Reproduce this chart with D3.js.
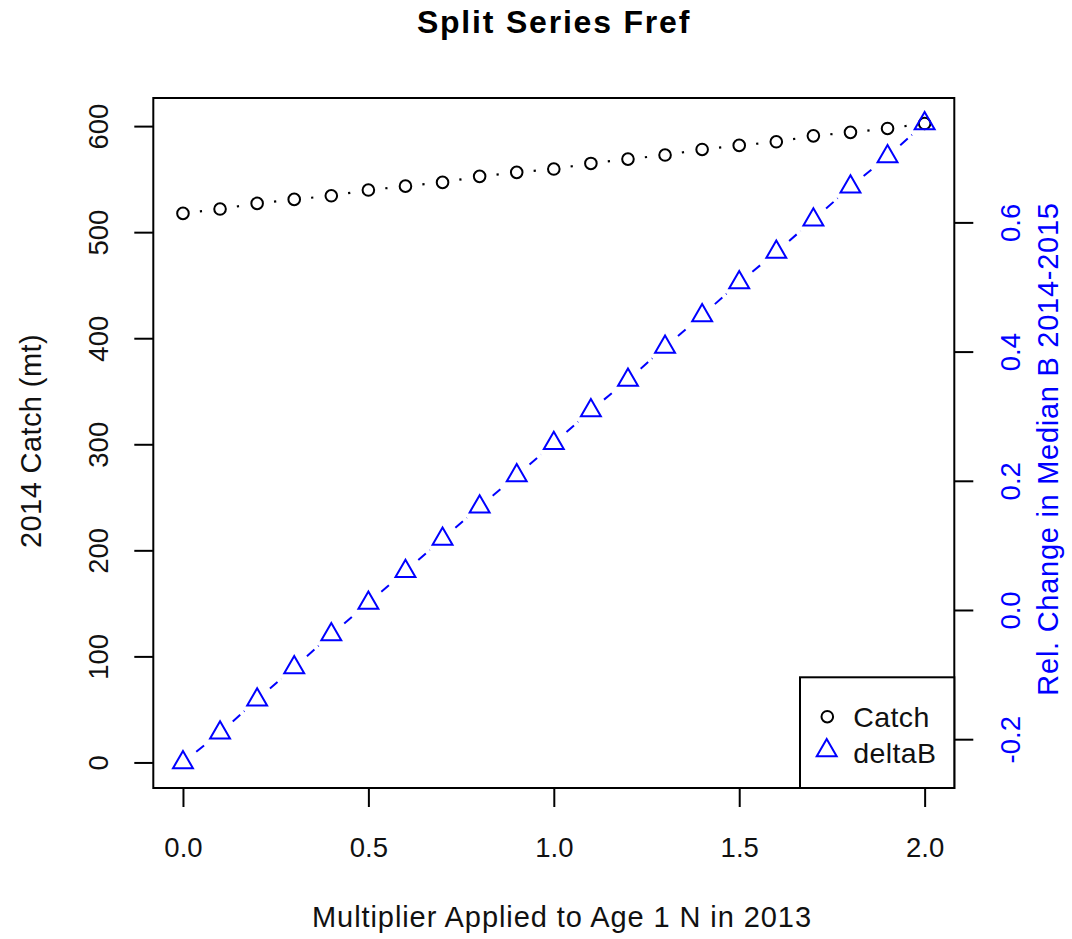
<!DOCTYPE html>
<html>
<head>
<meta charset="utf-8">
<script src="https://cdn.jsdelivr.net/npm/d3@7"></script>
<style>
  html, body { margin: 0; padding: 0; background: #fff; }
  svg { display: block; }
  text { font-family: "Liberation Sans", Arial, sans-serif; }
</style>
</head>
<body>
<div id="chart"></div>
<script>
// ---------- data ----------
const multiplier = [0.0, 0.1, 0.2, 0.3, 0.4, 0.5, 0.6, 0.7, 0.8, 0.9, 1.0,
                    1.1, 1.2, 1.3, 1.4, 1.5, 1.6, 1.7, 1.8, 1.9, 2.0];
const catchVals = [517.7, 521.8, 527.1, 530.9, 534.3, 539.7, 543.4, 546.9, 552.6, 556.4, 559.5,
                   564.8, 568.9, 572.7, 578.0, 581.8, 585.2, 590.8, 594.1, 597.8, 602.4];
const deltaB = [-0.236, -0.190, -0.139, -0.089, -0.038, 0.011, 0.060, 0.110, 0.160, 0.208, 0.258,
                0.309, 0.356, 0.407, 0.456, 0.507, 0.554, 0.604, 0.655, 0.702, 0.753];
const xTicks = [0.0, 0.5, 1.0, 1.5, 2.0];
const catchTicks = [0, 100, 200, 300, 400, 500, 600];
const deltaTicks = [-0.2, 0.0, 0.2, 0.4, 0.6];
const seriesNames = ["Catch", "deltaB"];
const titleText = "Split Series Fref";
const xTitle = "Multiplier Applied to Age 1 N in 2013";
const yLeftTitle = "2014 Catch (mt)";
const yRightTitle = "Rel. Change in Median B 2014-2015";

// ---------- layout ----------
const W = 1072, H = 939;
const box = { left: 153.3, right: 954.3, top: 98, bottom: 788 };
const BLUE = "#0000ff";
const INK = "#111";

function padExt(ext) {
  const r = ext[1] - ext[0];
  return [ext[0] - 0.04 * r, ext[1] + 0.04 * r];
}

const x = d3.scaleLinear().domain(padExt(d3.extent(multiplier))).range([box.left, box.right]);
const yL = d3.scaleLinear().domain(padExt([0, d3.max(catchVals)])).range([box.bottom, box.top]);
const yR = d3.scaleLinear().domain(padExt(d3.extent(deltaB))).range([box.bottom, box.top]);

const loc = d3.formatLocale({ decimal: ".", thousands: ",", grouping: [3], currency: ["", ""], minus: "-" });
const f1 = loc.format(".1f");
const f0 = loc.format("d");

const svg = d3.select("#chart").append("svg").attr("width", W).attr("height", H);
svg.append("rect").attr("width", W).attr("height", H).attr("fill", "#fff");

// ---------- axes ----------
const TICK = 19;
const axisFont = 27.5;
const FF = "Liberation Sans, Arial, sans-serif";

const gx = svg.append("g").attr("transform", `translate(0,${box.bottom})`)
  .call(d3.axisBottom(x).tickValues(xTicks).tickSize(TICK).tickSizeOuter(0).tickFormat(f1));
gx.select(".domain").remove();
gx.selectAll(".tick line").attr("stroke", "#000").attr("stroke-width", 2);
gx.selectAll(".tick text").attr("y", 68.7).attr("dy", 0)
  .attr("font-size", axisFont).attr("fill", INK).attr("font-family", FF);

const gl = svg.append("g").attr("transform", `translate(${box.left},0)`)
  .call(d3.axisLeft(yL).tickValues(catchTicks).tickSize(TICK).tickSizeOuter(0).tickFormat(f0));
gl.select(".domain").remove();
gl.selectAll(".tick line").attr("stroke", "#000").attr("stroke-width", 2);
gl.selectAll(".tick text").attr("x", 0).attr("y", -45).attr("dy", 0)
  .attr("transform", "rotate(-90)").attr("text-anchor", "middle")
  .attr("font-size", axisFont).attr("fill", INK).attr("font-family", FF);

const gr = svg.append("g").attr("transform", `translate(${box.right},0)`)
  .call(d3.axisRight(yR).tickValues(deltaTicks).tickSize(TICK).tickSizeOuter(0).tickFormat(f1));
gr.select(".domain").remove();
gr.selectAll(".tick line").attr("stroke", "#000").attr("stroke-width", 2);
gr.selectAll(".tick text").attr("x", 0).attr("y", 65.7).attr("dy", 0)
  .attr("transform", "rotate(-90)").attr("text-anchor", "middle")
  .attr("font-size", axisFont).attr("fill", BLUE).attr("font-family", FF);

// ---------- series ----------
const GAP = 17;
function segments(xs, ys) {
  const out = [];
  for (let i = 0; i < xs.length - 1; i++) {
    const x0 = xs[i], y0 = ys[i], x1 = xs[i + 1], y1 = ys[i + 1];
    const d = Math.hypot(x1 - x0, y1 - y0);
    if (d <= 2 * GAP) continue;
    const ux = (x1 - x0) / d, uy = (y1 - y0) / d;
    out.push([x0 + ux * GAP, y0 + uy * GAP, x1 - ux * GAP, y1 - uy * GAP]);
  }
  return out;
}

const cx = multiplier.map(v => x(v));
const cyC = catchVals.map(v => yL(v));
const cyD = deltaB.map(v => yR(v));

// catch: dotted line with gaps + open circles
svg.append("g").selectAll("line").data(segments(cx, cyC)).join("line")
  .attr("x1", d => d[0]).attr("y1", d => d[1]).attr("x2", d => d[2]).attr("y2", d => d[3])
  .attr("stroke", "#000").attr("stroke-width", 2.2).attr("stroke-dasharray", "2.2,6.6");
svg.append("g").selectAll("circle").data(multiplier).join("circle")
  .attr("cx", (d, i) => cx[i]).attr("cy", (d, i) => cyC[i]).attr("r", 5.8)
  .attr("fill", "none").attr("stroke", "#000").attr("stroke-width", 2);

// deltaB: dashed blue line with gaps + open triangles
const TR = 11.5;
function triPath(px, py) {
  const hw = TR * Math.sqrt(3) / 2;
  return `M${px},${py - TR}L${px + hw},${py + TR / 2}L${px - hw},${py + TR / 2}Z`;
}
svg.append("g").selectAll("line").data(segments(cx, cyD)).join("line")
  .attr("x1", d => d[0]).attr("y1", d => d[1]).attr("x2", d => d[2]).attr("y2", d => d[3])
  .attr("stroke", BLUE).attr("stroke-width", 2).attr("stroke-dasharray", "10,5");
svg.append("g").selectAll("path").data(multiplier).join("path")
  .attr("d", (d, i) => triPath(cx[i], cyD[i]))
  .attr("fill", "none").attr("stroke", BLUE).attr("stroke-width", 2);

// ---------- box ----------
svg.append("rect").attr("x", box.left).attr("y", box.top)
  .attr("width", box.right - box.left).attr("height", box.bottom - box.top)
  .attr("fill", "none").attr("stroke", "#000").attr("stroke-width", 2);

// ---------- legend ----------
const lg = svg.append("g");
lg.append("rect").attr("x", 800).attr("y", 677.3).attr("width", box.right - 800).attr("height", box.bottom - 677.3)
  .attr("fill", "#fff").attr("stroke", "#000").attr("stroke-width", 2);
lg.append("circle").attr("cx", 827.3).attr("cy", 716.7).attr("r", 5.8)
  .attr("fill", "none").attr("stroke", "#000").attr("stroke-width", 2);
lg.append("path").attr("d", triPath(826.7, 750.5))
  .attr("fill", "none").attr("stroke", BLUE).attr("stroke-width", 2);
lg.append("text").attr("x", 853.3).attr("y", 726.7).attr("font-size", 28.5).attr("letter-spacing", 0.4)
  .attr("fill", INK).text(seriesNames[0]);
lg.append("text").attr("x", 853.3).attr("y", 763.3).attr("font-size", 28.5).attr("letter-spacing", 0.4)
  .attr("fill", INK).text(seriesNames[1]);

// ---------- titles ----------
svg.append("text").attr("x", 554).attr("y", 33.3).attr("text-anchor", "middle")
  .attr("font-size", 32).attr("font-weight", "bold").attr("letter-spacing", 1.8)
  .attr("fill", "#000").text(titleText);
svg.append("text").attr("x", 312).attr("y", 926.7).attr("text-anchor", "start")
  .attr("font-size", 29).attr("letter-spacing", 0.92).attr("fill", INK).text(xTitle);
svg.append("text").attr("transform", "translate(41,441) rotate(-90)").attr("text-anchor", "middle")
  .attr("font-size", 29).attr("letter-spacing", 0.4).attr("fill", INK).text(yLeftTitle);
svg.append("text").attr("transform", "translate(1058,449) rotate(-90)").attr("text-anchor", "middle")
  .attr("font-size", 29).attr("letter-spacing", 0.73).attr("fill", BLUE).text(yRightTitle);
</script>
</body>
</html>
